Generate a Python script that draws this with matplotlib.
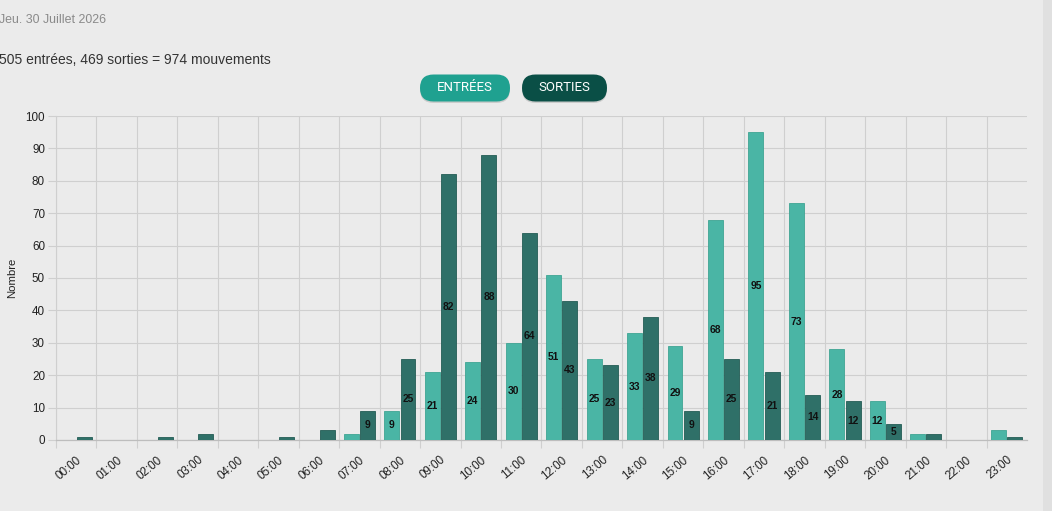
import matplotlib
matplotlib.use("Agg")
import matplotlib.pyplot as plt
from matplotlib.patches import FancyBboxPatch
import numpy as np

hours = [f"{h:02d}:00" for h in range(24)]
entrees = [0, 0, 0, 0, 0, 0, 0, 2, 9, 21, 24, 30, 51, 25, 33, 29, 68, 95, 73, 28, 12, 2, 0, 3]
sorties = [1, 0, 1, 2, 0, 1, 3, 9, 25, 82, 88, 64, 43, 23, 38, 9, 25, 21, 14, 12, 5, 2, 0, 1]
date_text = "Jeu. 30 Juillet 2026"
summary_text = f"{sum(entrees)} entrées, {sum(sorties)} sorties = {sum(entrees) + sum(sorties)} mouvements"
legend_labels = ["ENTRÉES", "SORTIES"]
y_ticks = list(range(0, 101, 10))

W, H = 1052, 511
BG = "#ebebeb"
C_ENT = "#4ab5a5"
C_ENT_E = "#3fa493"
C_SOR = "#2f7068"
C_SOR_E = "#235c55"
GRID = "#cfcfcf"

plt.rcParams['font.family'] = ['Liberation Sans', 'DejaVu Sans']

fig = plt.figure(figsize=(W / 100, H / 100), dpi=100, facecolor=BG)

# overlay in pixel coordinates
ov = fig.add_axes([0, 0, 1, 1], zorder=5)
ov.set_xlim(0, W)
ov.set_ylim(H, 0)
ov.axis("off")
ov.patch.set_alpha(0)

# scrollbar strip
ov.add_patch(plt.Rectangle((1043, 0), 9, H, color="#e0e0e0", lw=0))

ov.text(-1, 20, date_text, fontsize=8.9, color="#8a8a8a", va="center", ha="left")
ov.text(-1, 60, summary_text, fontsize=10, color="#333333", va="center", ha="left")

btns = [(420, 510, "#1fa190", legend_labels[0]), (522, 607, "#0a4f46", legend_labels[1])]
R = 13.5
for x0, x1, col, lab in btns:
    cy = 88
    sh = FancyBboxPatch((x0 + R, cy + 1.5), x1 - x0 - 2 * R, 0.0,
                        boxstyle=f"round,pad={R},rounding_size={R}",
                        fc="#000000", ec="none", alpha=0.13)
    ov.add_patch(sh)
    p = FancyBboxPatch((x0 + R, cy), x1 - x0 - 2 * R, 0.0,
                       boxstyle=f"round,pad={R},rounding_size={R}",
                       fc=col, ec="none")
    ov.add_patch(p)
    ov.text((x0 + x1) / 2, cy - 0.5, lab, fontsize=9.5, color="white",
            ha="center", va="center", family="Roboto")

ax = fig.add_axes([56 / W, 1 - 440 / H, (1027 - 56) / W, (440 - 116) / H])
ax.set_facecolor(BG)
x = np.arange(len(hours))
bw = 0.37
b1 = ax.bar(x - 0.2, entrees, bw, color=C_ENT, edgecolor=C_ENT_E, linewidth=0.6, zorder=3)
b2 = ax.bar(x + 0.2, sorties, bw, color=C_SOR, edgecolor=C_SOR_E, linewidth=0.6, zorder=3)
ax.bar_label(b1, labels=[str(v) if v >= 5 else "" for v in entrees], label_type="center",
             fontsize=7.4, fontweight="bold", color="#111111", zorder=4)
ax.bar_label(b2, labels=[str(v) if v >= 5 else "" for v in sorties], label_type="center",
             fontsize=7.4, fontweight="bold", color="#111111", zorder=4)

ax.set_xlim(-0.5, len(hours) - 0.5)
ax.set_ylim(0, 100)
ax.set_yticks(y_ticks)
ax.set_yticklabels([str(v) for v in y_ticks], fontsize=8.4, color="#222222")
ax.set_xticks(x)
ax.set_xticklabels(hours, fontsize=8.4, color="#222222", rotation=40, ha="right",
                   rotation_mode="anchor")
ax.set_xticks(np.arange(-0.5, len(hours) - 1, 1.0), minor=True)
ax.tick_params(axis="x", which="major", length=0, pad=10)
ax.tick_params(axis="x", which="minor", length=6, color=GRID, width=0.8)
ax.tick_params(axis="y", length=6, color=GRID, width=0.8, pad=2)
ax.grid(True, axis="y", color=GRID, linewidth=0.8, zorder=0)
ax.grid(True, axis="x", which="minor", color=GRID, linewidth=0.8, zorder=0)
for s in ["top", "right"]:
    ax.spines[s].set_visible(False)
ax.spines["left"].set_color(GRID)
ax.spines["left"].set_linewidth(0.8)
ax.spines["bottom"].set_color("#bdbdbd")
ax.spines["bottom"].set_linewidth(0.9)
ax.set_ylabel("Nombre", fontsize=8.2, color="#222222", labelpad=6)

fig.savefig("out.png", dpi=100, facecolor=BG)
